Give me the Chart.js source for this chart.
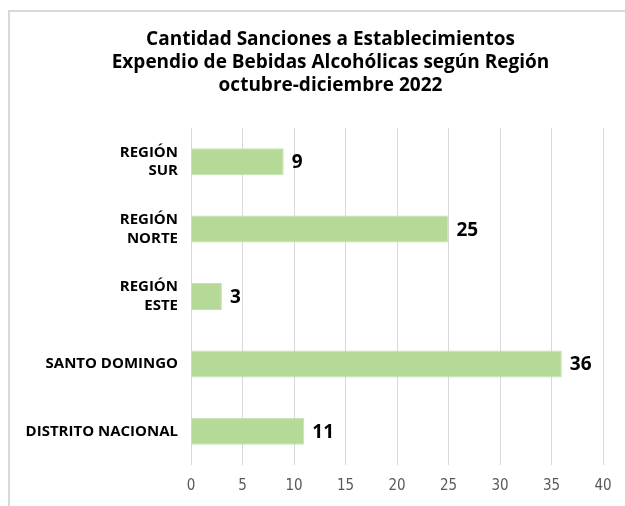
<!DOCTYPE html>
<html>
<head>
<meta charset="utf-8">
<title>Sanciones por Región</title>
<script src="https://cdn.jsdelivr.net/npm/chart.js@4.4.1/dist/chart.umd.min.js"></script>
<style>
  html, body { margin: 0; padding: 0; background: #fff; overflow: hidden; }
  #wrap { position: relative; width: 625px; height: 506px; }
  #frame { position: absolute; left: 8px; top: 10px; width: 700px; height: 600px;
           border: 2px solid #d9d9d9; box-sizing: border-box; pointer-events: none; }
  canvas { position: absolute; left: 0; top: 0; }
</style>
</head>
<body>
<div id="wrap">
  <canvas id="chart" width="625" height="506"></canvas>
  <div id="frame"></div>
</div>
<script>
// ============ data ============
var regiones = [["REGIÓN", "SUR"], ["REGIÓN", "NORTE"], ["REGIÓN", "ESTE"], "SANTO DOMINGO", "DISTRITO NACIONAL"];
var sanciones = [9, 25, 3, 36, 11];
var titulo = [
    "Cantidad Sanciones a Establecimientos",
    "Expendio de Bebidas Alcohólicas según Región",
    "octubre-diciembre 2022"
];

// title, centred on the original Excel chart box (not the plot area)
var titleLines = {
    id: 'titleLines',
    afterDraw: function (chart) {
        var ctx = chart.ctx;
        ctx.save();
        ctx.font = 'bold 19px "Open Sans", sans-serif';
        ctx.fillStyle = '#000';
        ctx.textAlign = 'center';
        ctx.textBaseline = 'alphabetic';
        titulo.forEach(function (line, i) {
            ctx.fillText(line, 330.5, 44.5 + i * 23.2);
        });
        ctx.restore();
    }
};

// value labels at the end of each bar
var barLabels = {
    id: 'barLabels',
    afterDatasetsDraw: function (chart) {
        var ctx = chart.ctx;
        var meta = chart.getDatasetMeta(0);
        ctx.save();
        ctx.font = 'bold 19px "Open Sans", sans-serif';
        ctx.fillStyle = '#000';
        ctx.textAlign = 'left';
        ctx.textBaseline = 'middle';
        meta.data.forEach(function (bar, i) {
            ctx.fillText(chart.data.datasets[0].data[i], bar.x + 8, bar.y + 1);
        });
        ctx.restore();
    }
};

var ctx = document.getElementById('chart');

var myChart = new Chart(ctx, {
    type: 'bar',
    data: {
        labels: regiones,
        datasets: [{
            label: "Sanciones",
            data: sanciones,
            backgroundColor: 'rgb(181, 218, 152)',
            borderColor: 'rgb(197, 226, 176)',
            borderWidth: 1,
            barPercentage: 0.4,
            categoryPercentage: 1.0
        }]
    },
    options: {
        indexAxis: 'y',
        responsive: false,
        animation: false,
        layout: {
            padding: { top: 128, left: 0, right: 0, bottom: 0 }
        },
        plugins: {
            legend: { display: false },
            tooltip: { enabled: false },
            title: { display: false }
        },
        scales: {
            x: {
                min: 0,
                max: 40,
                ticks: {
                    stepSize: 5,
                    color: '#595959',
                    padding: 12,
                    font: { family: '"Liberation Sans Narrow", "DejaVu Sans Condensed", sans-serif', size: 15 }
                },
                grid: { color: '#d9d9d9', lineWidth: 1, drawTicks: false },
                border: { display: false },
                afterFit: function (scale) {
                    scale.height = 41;
                    scale.paddingRight = 22;
                }
            },
            y: {
                ticks: {
                    color: '#000',
                    padding: 13,
                    font: { family: '"Open Sans", sans-serif', size: 15, weight: 'bold', lineHeight: 1.25 }
                },
                grid: { display: false, drawTicks: false },
                border: { display: false },
                afterFit: function (scale) {
                    scale.width = 191;
                }
            }
        }
    },
    plugins: [barLabels, titleLines]
});
</script>
</body>
</html>
